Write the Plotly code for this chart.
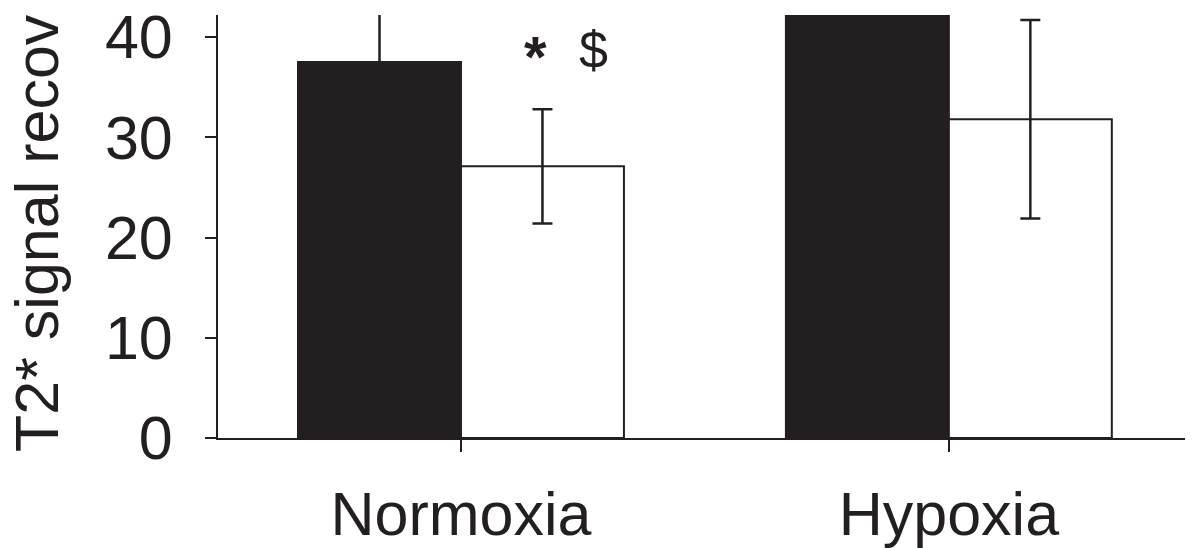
import plotly.graph_objects as go

groups = ["Normoxia", "Hypoxia"]
dark_vals = [37.5, 46.0]
dark_err = [9.0, 8.0]
light_vals = [27.1, 31.8]
light_err = [5.7, 9.9]
y_ticks = [0, 10, 20, 30, 40]

INK = "#231f20"
FONT = "Arial, Liberation Sans, sans-serif"

fig = go.Figure()

fig.add_trace(go.Bar(
    x=groups, y=dark_vals, name="dark",
    marker=dict(color=INK, line=dict(color=INK, width=2)),
    error_y=dict(type="data", array=dark_err, color=INK, thickness=2.5, width=10),
))
fig.add_trace(go.Bar(
    x=groups, y=light_vals, name="light",
    marker=dict(color="white", line=dict(color=INK, width=2)),
    error_y=dict(type="data", array=light_err, color=INK, thickness=2.5, width=10),
))

fig.update_layout(
    width=1193,
    height=548,
    margin=dict(l=218, r=8, t=15, b=110, pad=0, autoexpand=False),
    plot_bgcolor="white",
    paper_bgcolor="white",
    barmode="group",
    bargap=0.332,
    bargroupgap=0,
    showlegend=False,
    font=dict(family=FONT, color=INK, size=60),
)

fig.update_xaxes(
    range=[-0.498, 1.484],
    showline=True, linecolor=INK, linewidth=2,
    ticks="outside", ticklen=12, tickwidth=2, tickcolor=INK,
    tickfont=dict(size=61, color=INK),
    ticklabelstandoff=10,
    showgrid=False, zeroline=False, automargin=False,
)
fig.update_yaxes(
    range=[0, 42.2],
    tickmode="array", tickvals=y_ticks,
    showline=True, linecolor=INK, linewidth=2,
    ticks="outside", ticklen=11, tickwidth=2, tickcolor=INK,
    tickfont=dict(size=61, color=INK),
    ticklabelstandoff=20,
    showgrid=False, zeroline=False, automargin=False,
)

# y-axis title, as far as the cropped panel shows it
fig.add_annotation(
    text="T2* signal recov",
    xref="paper", yref="paper",
    x=(37 - 218) / 967, y=(438 - 454) / 423,
    xanchor="center", yanchor="bottom",
    textangle=-90, showarrow=False,
    font=dict(size=61, color=INK),
)

# significance marks
fig.add_annotation(
    text="<b>*</b>", xref="paper", yref="paper",
    x=(535 - 218) / 967, y=(438 - 56) / 423,
    xanchor="center", yanchor="middle", showarrow=False,
    font=dict(size=58, color=INK),
)
fig.add_annotation(
    text="$", xref="paper", yref="paper",
    x=(593 - 218) / 967, y=(438 - 50) / 423,
    xanchor="center", yanchor="middle", showarrow=False,
    font=dict(size=52, color=INK),
)

fig.write_html(
    "out.html",
    config={"displayModeBar": False},
    post_script="document.body.style.margin='0px';",
)
